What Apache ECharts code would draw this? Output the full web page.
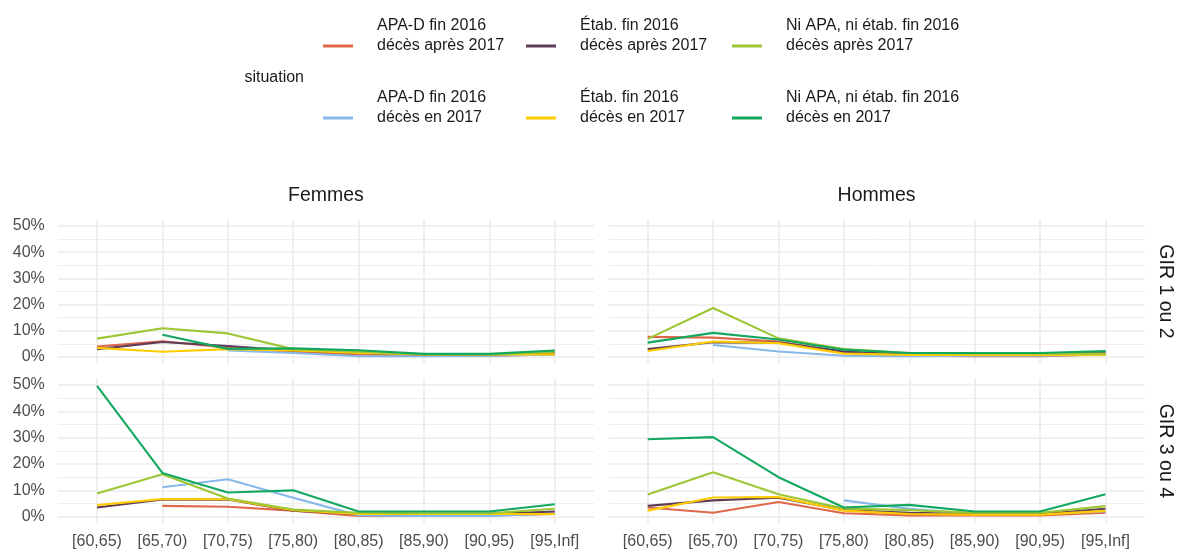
<!DOCTYPE html>
<html>
<head>
<meta charset="utf-8">
<script src="https://cdn.jsdelivr.net/npm/echarts@6/dist/echarts.min.js"></script>
<style>
  html, body { margin: 0; padding: 0; background: #fff; }
  #chart { width: 1180px; height: 554px; }
</style>
</head>
<body>
<div id="chart"></div>
<script>
// age classes (x axis)
const categories = ['[60,65)', '[65,70)', '[70,75)', '[75,80)', '[80,85)', '[85,90)', '[90,95)', '[95,Inf]'];
const yTicks = [0, 10, 20, 30, 40, 50];

const situations = [
  'APA-D fin 2016\ndécès après 2017',
  'APA-D fin 2016\ndécès en 2017',
  'Étab. fin 2016\ndécès après 2017',
  'Étab. fin 2016\ndécès en 2017',
  'Ni APA, ni étab. fin 2016\ndécès après 2017',
  'Ni APA, ni étab. fin 2016\ndécès en 2017'
];
const colors = ['#e0674b', '#86b8ea', '#5e3c58', '#ffcc00', '#9dc634', '#13a85f'];

// Femmes, GIR 1 ou 2 (%)
const femmesGir12ApaApres  = [4, 6, 3.5, 2, 1, 0.5, 0.5, 1];
const femmesGir12ApaEn     = [null, null, 2.5, 1.5, 0.3, 0.3, 0.5, 1];
const femmesGir12EtabApres = [3, 5.7, 4.2, 2.5, 1.5, 1, 1, 1.5];
const femmesGir12EtabEn    = [3.5, 2, 3, 2.5, 1.5, 1, 1, 1];
const femmesGir12NiApres   = [7, 11, 9, 3, 2, 1, 1, 2];
const femmesGir12NiEn      = [null, 8.5, 3.1, 3.3, 2.6, 1.2, 1.2, 2.5];

// Hommes, GIR 1 ou 2
const hommesGir12ApaApres  = [7.7, 7.4, 5.9, 1.8, 0.5, 0.3, 0.3, 1];
const hommesGir12ApaEn     = [null, 4.6, 2.1, 0.5, 0.3, 0.5, 0.5, 1];
const hommesGir12EtabApres = [3, 5.6, 5.5, 2.1, 1, 1, 1, 1.8];
const hommesGir12EtabEn    = [2.3, 5.9, 5.3, 1.3, 0.8, 0.8, 0.8, 0.9];
const hommesGir12NiApres   = [6.9, 18.7, 7.1, 3, 1.5, 1.3, 1.3, 1.3];
const hommesGir12NiEn      = [5.5, 9.2, 6.7, 2.8, 1.5, 1.5, 1.5, 2.3];

// Femmes, GIR 3 ou 4
const femmesGir34ApaApres  = [null, 4.1, 3.8, 2.3, 0.3, 0.3, 0.5, 1];
const femmesGir34ApaEn     = [null, 11.2, 14.2, 7.2, 0.5, 0.3, 0.3, 1.2];
const femmesGir34EtabApres = [3.5, 6.5, 6.5, 2.3, 1, 1, 1, 2];
const femmesGir34EtabEn    = [4.4, 6.7, 6.6, 2.5, 1, 1, 1, 1];
const femmesGir34NiApres   = [8.8, 16.1, 6.9, 2.7, 1.5, 1.3, 1.3, 3];
const femmesGir34NiEn      = [49.7, 16.6, 9.2, 10, 2, 2, 2, 4.7];

// Hommes, GIR 3 ou 4
const hommesGir34ApaApres  = [3.5, 1.5, 5.6, 1.3, 0.5, 0.5, 0.5, 1.5];
const hommesGir34ApaEn     = [null, null, null, 6.2, 3, 1, 1, 2];
const hommesGir34EtabApres = [4.1, 6.2, 7.2, 2.5, 1.5, 1, 1, 3];
const hommesGir34EtabEn    = [2.3, 7.3, 7.5, 2.3, 1, 0.8, 0.8, 2.2];
const hommesGir34NiApres   = [8.4, 16.9, 8.5, 3.1, 2.5, 1.5, 1.5, 4];
const hommesGir34NiEn      = [29.4, 30.2, 15, 3.5, 4.5, 2, 2, 8.5];

const panels = [
  { sexe: 'Femmes', gir: 'GIR 1 ou 2', col: 0, row: 0,
    values: [femmesGir12ApaApres, femmesGir12ApaEn, femmesGir12EtabApres, femmesGir12EtabEn, femmesGir12NiApres, femmesGir12NiEn] },
  { sexe: 'Hommes', gir: 'GIR 1 ou 2', col: 1, row: 0,
    values: [hommesGir12ApaApres, hommesGir12ApaEn, hommesGir12EtabApres, hommesGir12EtabEn, hommesGir12NiApres, hommesGir12NiEn] },
  { sexe: 'Femmes', gir: 'GIR 3 ou 4', col: 0, row: 1,
    values: [femmesGir34ApaApres, femmesGir34ApaEn, femmesGir34EtabApres, femmesGir34EtabEn, femmesGir34NiApres, femmesGir34NiEn] },
  { sexe: 'Hommes', gir: 'GIR 3 ou 4', col: 1, row: 1,
    values: [hommesGir34ApaApres, hommesGir34ApaEn, hommesGir34EtabApres, hommesGir34EtabEn, hommesGir34NiApres, hommesGir34NiEn] }
];

// layout (px)
const firstCatX = [97, 647.7];   // x of [60,65) in each column
const catStep = 65.4;
const zeroY = [357, 516.7];       // y of 0 % in each row
const pxPerPct = [2.62, 2.634];
const font = "'Liberation Sans', Arial, sans-serif";
const gridColor = '#ebebeb';

const grids = [], xAxes = [], yAxes = [], series = [];

panels.forEach(function (p, k) {
  const x0 = firstCatX[p.col];
  const x7 = x0 + 7 * catStep;
  const top50 = zeroY[p.row] - 50 * pxPerPct[p.row];
  // background grid: horizontal lines, y labels
  grids.push({ left: x0 - 0.6 * catStep, width: 8.2 * catStep, top: top50, height: 50 * pxPerPct[p.row] });
  xAxes.push({ gridIndex: 2 * k, type: 'value', min: 0, max: 1, show: false });
  yAxes.push({
    gridIndex: 2 * k, type: 'value', min: 0, max: 50, interval: 10,
    axisLine: { show: false }, axisTick: { show: false },
    axisLabel: { show: p.col === 0, formatter: '{value}%', color: '#4d4d4d', fontFamily: font, fontSize: 16, margin: 13,
      customValues: yTicks },
    splitLine: { lineStyle: { color: gridColor, width: 1.6 } },
    minorTick: { show: false, splitNumber: 2 },
    minorSplitLine: { show: true, lineStyle: { color: gridColor, width: 0.9 } }
  });
  // data grid: expanded by 2.5 % above/below, vertical lines at categories
  grids.push({ left: x0, width: x7 - x0, top: top50 - 2.5 * pxPerPct[p.row], height: 55 * pxPerPct[p.row] });
  xAxes.push({
    gridIndex: 2 * k + 1, type: 'value', min: 0, max: 7, interval: 1,
    axisLine: { show: false }, axisTick: { show: false },
    axisLabel: { show: p.row === 1, formatter: function (v) { return categories[v]; },
      color: '#4d4d4d', fontFamily: font, fontSize: 16, margin: 10 },
    splitLine: { lineStyle: { color: gridColor, width: 1.6 } }
  });
  yAxes.push({ gridIndex: 2 * k + 1, type: 'value', min: -2.5, max: 52.5, show: false, splitLine: { show: false } });

  p.values.forEach(function (vals, s) {
    series.push({
      name: situations[s],
      type: 'line',
      xAxisIndex: 2 * k + 1,
      yAxisIndex: 2 * k + 1,
      data: vals.map(function (v, i) { return [i, v]; }),
      symbol: 'none',
      connectNulls: false,
      color: colors[s],
      lineStyle: { width: 2.1, color: colors[s] },
      emphasis: { disabled: true },
      z: 2 + s
    });
  });
});

function legendCol(left, names) {
  return {
    left: left, top: 11, orient: 'vertical',
    data: names, icon: 'rect', itemWidth: 30, itemHeight: 3, itemGap: 12,
    formatter: function (n) { return n + '\n '; },
    textStyle: { color: '#1a1a1a', fontFamily: font, fontSize: 16, lineHeight: 20, padding: [0, 0, 0, 19] }
  };
}

const stripStyle = { fill: '#1a1a1a', font: '19.5px ' + font, align: 'center', verticalAlign: 'middle' };

const option = {
  animation: false,
  backgroundColor: '#fff',
  grid: grids,
  xAxis: xAxes,
  yAxis: yAxes,
  series: series,
  legend: [
    legendCol(318, [situations[0], situations[1]]),
    legendCol(521, [situations[2], situations[3]]),
    legendCol(727, [situations[4], situations[5]])
  ],
  graphic: [
    { type: 'text', x: 304, y: 78, style: { text: 'situation', fill: '#1a1a1a', font: '16px ' + font, align: 'right', verticalAlign: 'middle' } },
    { type: 'text', x: firstCatX[0] + 3.5 * catStep, y: 196, style: Object.assign({ text: 'Femmes' }, stripStyle) },
    { type: 'text', x: firstCatX[1] + 3.5 * catStep, y: 196, style: Object.assign({ text: 'Hommes' }, stripStyle) },
    { type: 'text', x: 1165, y: zeroY[0] - 25 * pxPerPct[0], rotation: -Math.PI / 2, style: Object.assign({ text: 'GIR 1 ou 2' }, stripStyle) },
    { type: 'text', x: 1165, y: zeroY[1] - 25 * pxPerPct[1], rotation: -Math.PI / 2, style: Object.assign({ text: 'GIR 3 ou 4' }, stripStyle) }
  ]
};

const chart = echarts.init(document.getElementById('chart'), null, { renderer: 'canvas' });
chart.setOption(option);
</script>
</body>
</html>
